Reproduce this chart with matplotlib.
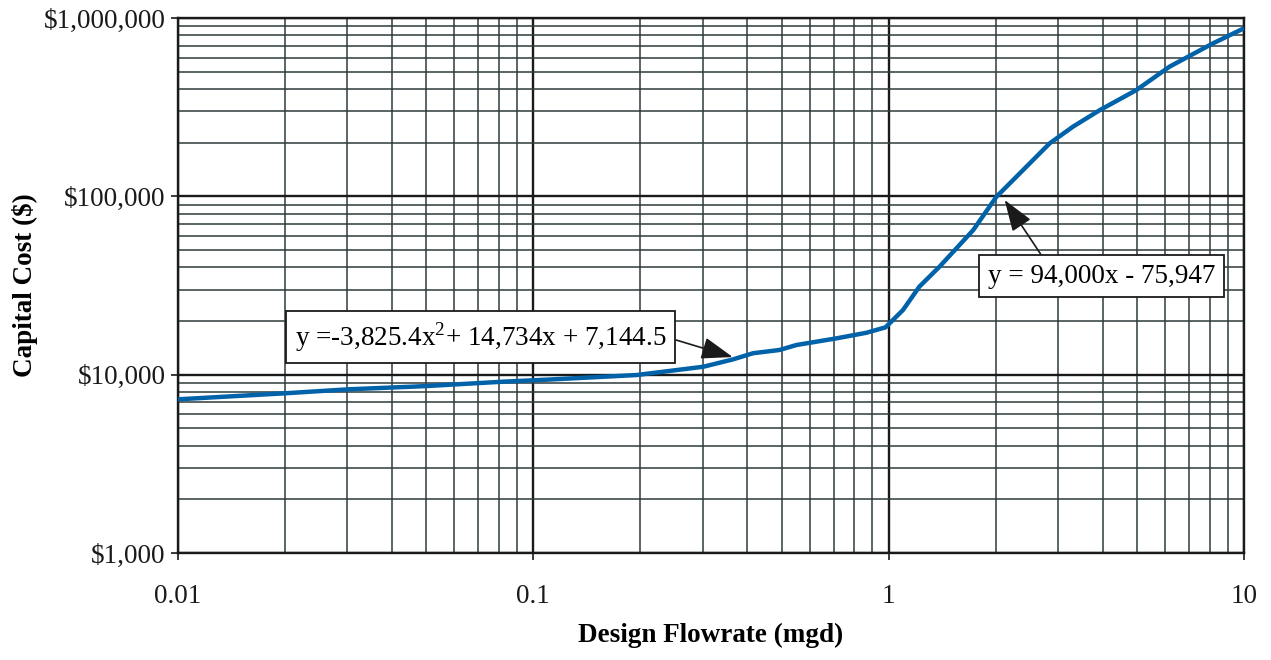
#!/usr/bin/env python3
"""
Capital cost vs. design flowrate (log-log)
"""
import numpy as np
import matplotlib
matplotlib.use('Agg')
import matplotlib.pyplot as plt
from matplotlib.ticker import LogLocator, NullFormatter

plt.rcParams['font.family'] = ['Liberation Serif', 'DejaVu Serif']
plt.rcParams['mathtext.fontset'] = 'custom'
plt.rcParams['mathtext.rm'] = 'Liberation Serif'

# Werte
flow_mgd = [0.01, 0.02, 0.03, 0.05, 0.082, 0.111, 0.195, 0.301, 0.365, 0.415,
            0.493, 0.55, 0.713, 0.866, 0.98, 1.097, 1.22, 1.39, 1.73, 2.01,
            2.39, 2.84, 3.30, 3.93, 4.98, 6.17, 8.17, 10.0]
capital_cost = [7280, 7870, 8280, 8640, 9140, 9400, 9960, 11090, 12200, 13200,
                13770, 14680, 16000, 17200, 18450, 23060, 31200, 40350, 64800, 99600,
                140700, 198600, 246000, 305000, 395000, 534000, 721000, 877000]

x_ticks = [0.01, 0.1, 1, 10]
x_ticklabels = ['0.01', '0.1', '1', '10']
y_ticks = [1e3, 1e4, 1e5, 1e6]
y_ticklabels = ['$1,000', '$10,000', '$100,000', '$1,000,000']

eq_low = 'y =-3,825.4x$^\\mathrm{2}$+ 14,734x + 7,144.5'
eq_high = 'y = 94,000x - 75,947'

fs = 19.5

fig = plt.figure(figsize=(12.71, 6.6), dpi=100)
ax = fig.add_axes([0.140, 0.162, 0.8388, 0.8106])

ax.set_xscale('log')
ax.set_yscale('log')
ax.set_xlim(0.01, 10)
ax.set_ylim(1e3, 1e6)

# Gitter
ax.xaxis.set_minor_locator(LogLocator(base=10, subs=np.arange(2, 10)))
ax.yaxis.set_minor_locator(LogLocator(base=10, subs=np.arange(2, 10)))
ax.xaxis.set_minor_formatter(NullFormatter())
ax.yaxis.set_minor_formatter(NullFormatter())
ax.grid(True, which='minor', color='#2f3a3a', linewidth=1.1)
ax.grid(True, which='major', color='#1a1a1a', linewidth=1.7)
ax.set_axisbelow(True)
for sp in ax.spines.values():
    sp.set_color('#1a1a1a')
    sp.set_linewidth(1.7)

ax.set_xticks(x_ticks)
ax.set_xticklabels(x_ticklabels)
ax.set_yticks(y_ticks)
ax.set_yticklabels(y_ticklabels)
ax.tick_params(which='major', direction='out', length=5, width=1.2,
               labelsize=fs, colors='#1a1a1a')
ax.tick_params(axis='x', which='major', pad=17)
ax.tick_params(axis='y', which='major', pad=4)
ax.tick_params(which='minor', length=0)

ax.plot(flow_mgd, capital_cost, color='#0063aa', linewidth=3.2,
        solid_capstyle='butt', zorder=3)

ax.set_xlabel('Design Flowrate (mgd)', fontsize=fs, fontweight='bold', labelpad=10)
ax.set_ylabel('Capital Cost ($)', fontsize=fs, fontweight='bold', labelpad=4)

box = dict(boxstyle='square,pad=0.33', facecolor='white', edgecolor='#1a1a1a', linewidth=1.3)
ax.annotate(eq_low, xy=(0.364, 12570), xytext=(0.0711, 16260),
            ha='center', va='center', fontsize=fs, bbox=box, zorder=5,
            arrowprops=dict(arrowstyle='-|>,head_length=1.0,head_width=0.35',
                            color='#1a1a1a', lw=1.2, relpos=(1.0, 0.5),
                            shrinkA=0, shrinkB=0))
ax.annotate(eq_high, xy=(2.12, 95500), xytext=(3.97, 35780),
            ha='center', va='center', fontsize=fs, bbox=box, zorder=5,
            arrowprops=dict(arrowstyle='-|>,head_length=1.0,head_width=0.35',
                            color='#1a1a1a', lw=1.2, relpos=(0.26, 1.0),
                            shrinkA=0, shrinkB=0))

plt.savefig('out.png', dpi=100)
